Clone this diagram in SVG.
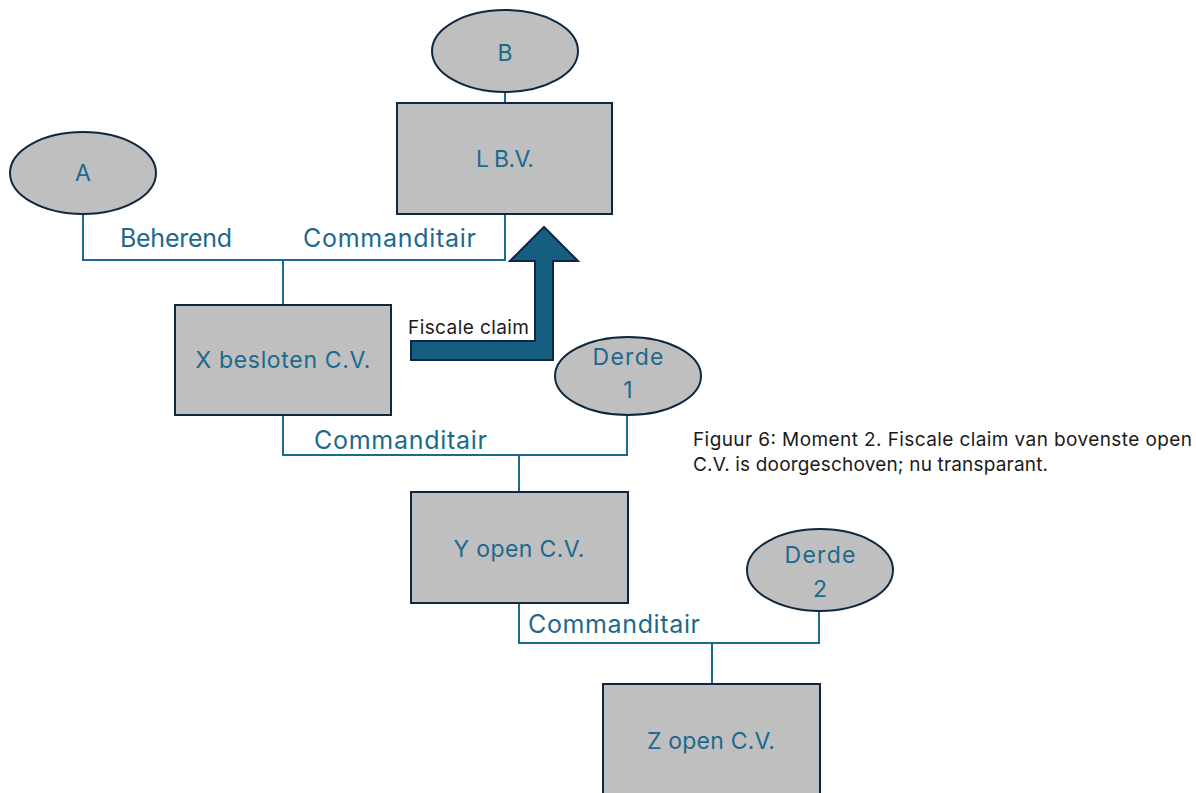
<svg xmlns="http://www.w3.org/2000/svg" width="1196" height="793" viewBox="0 0 1196 793">
  <style>
    .node { fill: #bfbfbf; stroke: #0e2841; stroke-width: 2; }
    .lbl { font-family: Inter, "Open Sans", "Liberation Sans", sans-serif; font-size: 23px; fill: #1b6a8e; text-anchor: middle; }
    .edge { font-family: Inter, "Open Sans", "Liberation Sans", sans-serif; font-size: 25px; fill: #1b6a8e; }
    .wire { fill: none; stroke: #1b6a8e; stroke-width: 2; }
    .note { font-family: Inter, "Open Sans", "Liberation Sans", sans-serif; font-size: 19px; fill: #1a1a1a; }
  </style>
  <rect width="1196" height="793" fill="#ffffff"/>

  <!-- ownership connectors -->
  <g id="connectors">
    <line class="wire" x1="505" y1="92" x2="505" y2="103"/>
    <polyline class="wire" points="83,214 83,260 505,260 505,214"/>
    <line class="wire" x1="283" y1="260" x2="283" y2="305"/>
    <polyline class="wire" points="283,415 283,455 627,455 627,415"/>
    <line class="wire" x1="519" y1="455" x2="519" y2="492"/>
    <polyline class="wire" points="519,603 519,643 819,643 819,611"/>
    <line class="wire" x1="712" y1="643" x2="712" y2="684"/>
    <text class="edge" x="120" y="247" textLength="112">Beherend</text>
    <text class="edge" x="303" y="247" textLength="173">Commanditair</text>
    <text class="edge" x="314" y="449" textLength="173">Commanditair</text>
    <text class="edge" x="528" y="633" textLength="172">Commanditair</text>
  </g>

  <g id="node-B">
    <ellipse class="node" cx="505" cy="51" rx="73" ry="41"/>
    <text class="lbl" x="505" y="61">B</text>
  </g>
  <g id="node-L">
    <rect class="node" x="397" y="103" width="215" height="111"/>
    <text class="lbl" x="505" y="167" textLength="58">L B.V.</text>
  </g>
  <g id="node-A">
    <ellipse class="node" cx="83" cy="173" rx="73" ry="41"/>
    <text class="lbl" x="83" y="181">A</text>
  </g>
  <g id="node-X">
    <rect class="node" x="175" y="305" width="216" height="110"/>
    <text class="lbl" x="283" y="368" textLength="175">X besloten C.V.</text>
  </g>
  <g id="node-derde1">
    <ellipse class="node" cx="628" cy="376" rx="73" ry="39"/>
    <text class="lbl" x="628" y="365" textLength="71">Derde</text>
    <text class="lbl" x="628" y="398">1</text>
  </g>
  <g id="node-Y">
    <rect class="node" x="411" y="492" width="217" height="111"/>
    <text class="lbl" x="519" y="557" textLength="131">Y open C.V.</text>
  </g>
  <g id="node-derde2">
    <ellipse class="node" cx="820" cy="570" rx="73" ry="41"/>
    <text class="lbl" x="820" y="563" textLength="71">Derde</text>
    <text class="lbl" x="820" y="597">2</text>
  </g>
  <g id="node-Z">
    <rect class="node" x="603" y="684" width="217" height="120"/>
    <text class="lbl" x="711" y="749" textLength="128">Z open C.V.</text>
  </g>

  <!-- bent arrow showing the tax claim moving up -->
  <g id="fiscal-claim">
    <path d="M411,341 L535,341 L535,261 L510,261 L544,227 L578,261 L553,261 L553,360 L411,360 Z" fill="#165e80" stroke="#0e2841" stroke-width="2" stroke-linejoin="miter"/>
    <text class="note" x="408" y="334" textLength="121">Fiscale claim</text>
  </g>

  <g id="caption">
    <text class="note" x="693" y="446" textLength="499">Figuur 6: Moment 2. Fiscale claim van bovenste open</text>
    <text class="note" x="693" y="471" textLength="355">C.V. is doorgeschoven; nu transparant.</text>
  </g>
</svg>
